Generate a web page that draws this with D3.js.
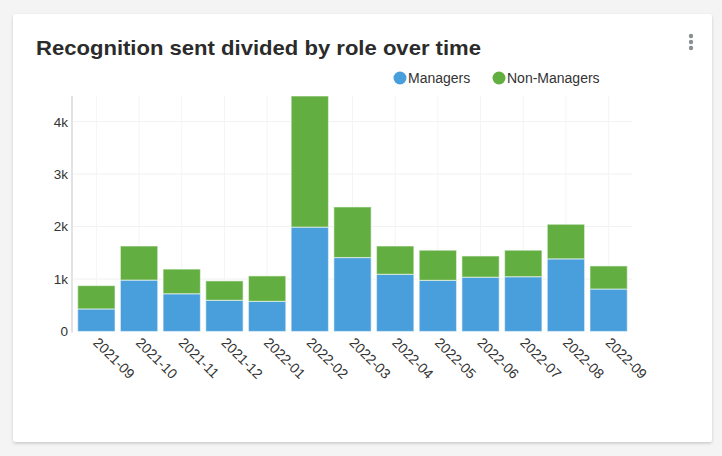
<!DOCTYPE html>
<html>
<head>
<meta charset="utf-8">
<script src="https://cdn.jsdelivr.net/npm/d3@7"></script>
<style>
  body { margin: 0; background: #f4f4f4; }
  svg { display: block; }
</style>
</head>
<body>
<svg id="chart" width="722" height="456"></svg>
<script>
// data
const months = ['2021-09', '2021-10', '2021-11', '2021-12', '2022-01', '2022-02', '2022-03',
    '2022-04', '2022-05', '2022-06', '2022-07', '2022-08', '2022-09'];
const managers = [430, 980, 720, 595, 575, 1990, 1410, 1090, 975, 1035, 1045, 1385, 810];
const nonManagers = [445, 650, 470, 370, 485, 2500, 965, 540, 575, 405, 505, 660, 440];
const seriesNames = ['Managers', 'Non-Managers'];
const seriesColors = ['#489fdc', '#63ae40'];
const yTicks = [0, 1000, 2000, 3000, 4000];

const svg = d3.select('#chart');
const font = 'Helvetica, Arial, "Liberation Sans", sans-serif';

// card
const defs = svg.append('defs');
const shadow = defs.append('filter').attr('id', 'shadow')
    .attr('x', '-5%').attr('y', '-5%').attr('width', '110%').attr('height', '115%');
shadow.append('feDropShadow')
    .attr('dx', 0).attr('dy', 1.5).attr('stdDeviation', 1.5)
    .attr('flood-color', '#000').attr('flood-opacity', 0.18);

svg.append('rect')
    .attr('x', 13).attr('y', 14).attr('width', 699).attr('height', 428)
    .attr('rx', 3).attr('fill', '#fff')
    .attr('filter', 'url(#shadow)');

svg.append('text')
    .attr('x', 36).attr('y', 55)
    .text('Recognition sent divided by role over time')
    .attr('textLength', 445)
    .attr('lengthAdjust', 'spacingAndGlyphs')
    .style('font-family', font)
    .style('font-size', '21px')
    .style('font-weight', 'bold')
    .attr('fill', '#2b2b2b');

// kebab menu
svg.selectAll('circle.menu')
    .data([36, 42, 48])
    .join('circle')
    .attr('class', 'menu')
    .attr('cx', 691).attr('cy', d => d).attr('r', 2.2)
    .attr('fill', '#8a8f94');

// scales
const plot = { left: 73, right: 632, top: 96, bottom: 331.5 };
const rows = months.map((m, i) => ({ month: m, Managers: managers[i], 'Non-Managers': nonManagers[i] }));
const stacked = d3.stack().keys(seriesNames)(rows);
const yMax = d3.max(rows, d => d.Managers + d['Non-Managers']);

const x = d3.scaleBand()
    .domain(months)
    .range([plot.left, plot.right])
    .paddingInner(0.125)
    .paddingOuter(0.11);

const y = d3.scaleLinear()
    .domain([0, yMax])
    .range([plot.bottom, plot.top]);

const color = d3.scaleOrdinal().domain(seriesNames).range(seriesColors);

// grid
svg.append('g')
    .selectAll('line.hgrid')
    .data(yTicks.filter(d => d > 0))
    .join('line')
    .attr('class', 'hgrid')
    .attr('x1', plot.left).attr('x2', plot.right)
    .attr('y1', d => y(d)).attr('y2', d => y(d))
    .attr('stroke', '#f1f1f1').attr('stroke-width', 1);

svg.append('g')
    .selectAll('line.vgrid')
    .data(months)
    .join('line')
    .attr('class', 'vgrid')
    .attr('x1', d => x(d) + x.bandwidth() / 2).attr('x2', d => x(d) + x.bandwidth() / 2)
    .attr('y1', plot.top).attr('y2', plot.bottom)
    .attr('stroke', '#f4f4f4').attr('stroke-width', 1);

// bars
svg.append('g')
    .selectAll('g.series')
    .data(stacked)
    .join('g')
    .attr('class', 'series')
    .attr('fill', d => color(d.key))
    .selectAll('rect')
    .data(d => d)
    .join('rect')
    .attr('x', d => x(d.data.month))
    .attr('width', x.bandwidth())
    .attr('y', d => y(d[1]))
    .attr('height', d => y(d[0]) - y(d[1]))
    .attr('stroke', '#fff')
    .attr('stroke-opacity', 0.5)
    .attr('stroke-width', 1.2);

// y axis
const yAxis = svg.append('g')
    .attr('transform', `translate(${plot.left},0)`)
    .call(d3.axisLeft(y).tickValues(yTicks).tickSize(0).tickPadding(5)
        .tickFormat(d => d === 0 ? '0' : d3.format('~s')(d)));
yAxis.select('.domain').remove();
yAxis.selectAll('text')
    .style('font-family', font)
    .style('font-size', '13.5px')
    .attr('fill', '#333');

svg.append('line')
    .attr('x1', plot.left - 1).attr('x2', plot.left - 1)
    .attr('y1', plot.top).attr('y2', plot.bottom + 1)
    .attr('stroke', '#e2e2e2').attr('stroke-width', 2);

// x labels
const xAxis = svg.append('g')
    .attr('transform', `translate(0,${plot.bottom})`)
    .call(d3.axisBottom(x).tickSize(0).tickPadding(0));
xAxis.select('.domain').remove();
xAxis.selectAll('text')
    .style('font-family', font)
    .style('font-size', '14px')
    .attr('fill', '#333')
    .attr('text-anchor', 'start')
    .attr('dy', 0)
    .attr('y', 0)
    .attr('transform', 'translate(-4,12) rotate(45)');

// legend
const legend = svg.append('g').attr('transform', 'translate(400,78)');
const legendX = [0, 99];
const items = legend.selectAll('g.item')
    .data(seriesNames)
    .join('g')
    .attr('class', 'item')
    .attr('transform', (d, i) => `translate(${legendX[i]},0)`);
items.append('circle')
    .attr('r', 6.5)
    .attr('fill', d => color(d));
items.append('text')
    .attr('x', 8).attr('y', 5)
    .text(d => d)
    .style('font-family', font)
    .style('font-size', '14px')
    .attr('fill', '#333');
</script>
</body>
</html>
